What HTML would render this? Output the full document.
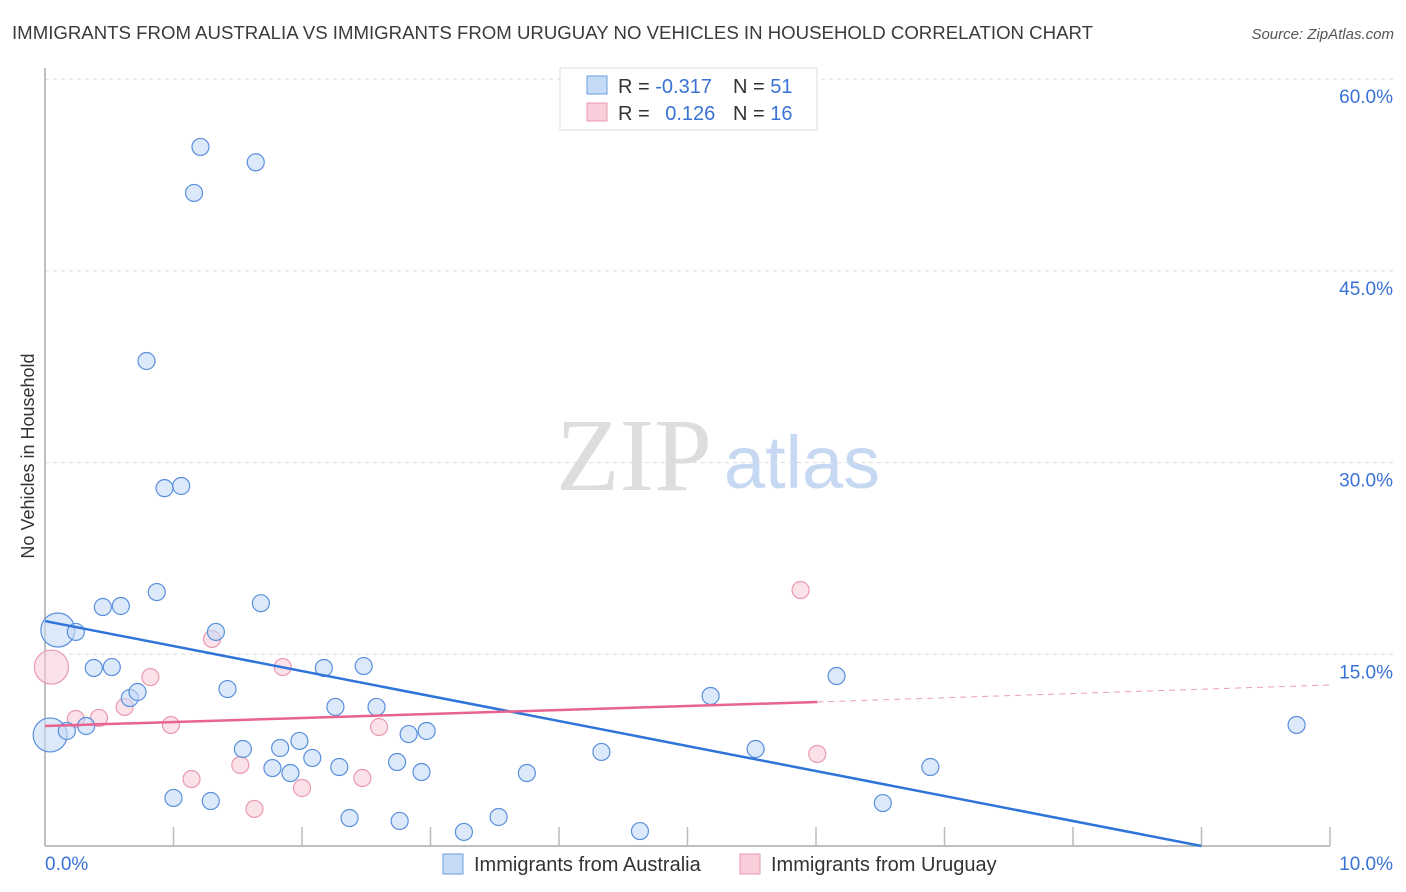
<!DOCTYPE html>
<html><head><meta charset="utf-8"><style>
body{margin:0;background:#fff;font-family:"Liberation Sans",sans-serif;}
svg{display:block}
</style></head><body>
<svg id="chart" width="1406" height="892">
<text x="12" y="39" font-size="18" fill="#3a3a3a" textLength="1081" lengthAdjust="spacingAndGlyphs">IMMIGRANTS FROM AUSTRALIA VS IMMIGRANTS FROM URUGUAY NO VEHICLES IN HOUSEHOLD CORRELATION CHART</text>
<text x="1394" y="39" font-size="15" fill="#555" font-style="italic" text-anchor="end">Source: ZipAtlas.com</text>
<text transform="translate(34,456) rotate(-90)" font-size="18" fill="#333" text-anchor="middle">No Vehicles in Household</text>
<g><text x="634" y="490" font-size="104" font-family="Liberation Serif,serif" fill="#ddd" text-anchor="middle">ZIP</text><text x="802" y="488" font-size="74" fill="#c7d9f2" text-anchor="middle">atlas</text></g>
<g id="grid"></g><g id="axes"></g><g id="marks"></g>
<g>
<rect x="560" y="68" width="257" height="62" fill="#fff" stroke="#ddd"/>
<rect x="587" y="76" width="20" height="18" fill="#c5daf6" stroke="#6a9ee0"/>
<rect x="587" y="103" width="20" height="18" fill="#f9cdd9" stroke="#ea9ab0"/>
<text x="618" y="93" font-size="20" fill="#333">R = <tspan fill="#3a72d6">-0.317</tspan></text>
<text x="733" y="93" font-size="20" fill="#333">N = <tspan fill="#3a72d6">51</tspan></text>
<text x="618" y="120" font-size="20" fill="#333">R = <tspan fill="#3a72d6" dx="10">0.126</tspan></text>
<text x="733" y="120" font-size="20" fill="#333">N = <tspan fill="#3a72d6">16</tspan></text>
</g>
<g>
<rect x="443" y="854" width="20" height="20" fill="#c5daf6" stroke="#6a9ee0"/>
<text x="474" y="871" font-size="20" fill="#333">Immigrants from Australia</text>
<rect x="740" y="854" width="20" height="20" fill="#f9cdd9" stroke="#ea9ab0"/>
<text x="771" y="871" font-size="20" fill="#333">Immigrants from Uruguay</text>
</g>
</svg>
<script>
const yTicks=[15,30,45,60];
const yTickLabels=["15.0%","30.0%","45.0%","60.0%"];
const xTickLabels=["0.0%","10.0%"];
const ausX=[0.04,0.10,0.17,0.24,0.32,0.38,0.45,0.52,0.59,0.66,0.72,0.79,0.87,0.93,1.00,1.06,1.16,1.21,1.29,1.33,1.42,1.54,1.64,1.68,1.77,1.83,1.91,1.98,2.08,2.17,2.26,2.29,2.37,2.48,2.58,2.74,2.76,2.83,2.93,2.97,3.26,3.53,3.75,4.33,4.63,5.18,5.53,6.16,6.52,6.89,9.74];
const ausY=[8.69,16.9,9.0,16.75,9.39,13.93,18.7,14.0,18.78,11.58,12.05,37.95,19.87,28.0,3.76,28.17,51.1,54.7,3.52,16.75,12.28,7.59,53.5,19.0,6.1,7.67,5.71,8.22,6.89,13.93,10.88,6.18,2.19,14.08,10.88,6.57,1.96,8.76,5.79,9.0,1.1,2.27,5.71,7.36,1.17,11.74,7.59,13.3,3.36,6.18,9.47];
const ausBig=[0,1];
const uruX=[0.05,0.24,0.42,0.62,0.82,0.98,1.14,1.30,1.52,1.63,1.85,2.00,2.47,2.60,5.88,6.01];
const uruY=[14.0,9.94,10.02,10.88,13.22,9.47,5.24,16.2,6.34,2.9,14.0,4.54,5.32,9.31,20.03,7.2];
const uruBig=[0];
const ausTrend=[[0,17.6],[9.0,0]];
const uruTrend=[[0,9.39],[6.01,11.27]];
const uruTrendDash=[[6.01,11.27],[10,12.6]];
const NS="http://www.w3.org/2000/svg";
const X0=45,X1=1330,Y0=846,YPER=12.78;
const sx=v=>X0+(X1-X0)*v/10, sy=v=>Y0-v*YPER;
function mk(tag,attrs,parent){const e=document.createElementNS(NS,tag);for(const k in attrs)e.setAttribute(k,attrs[k]);document.getElementById(parent).appendChild(e);return e;}
yTicks.forEach((t,i)=>{
 const g=mk('line',{x1:X0,x2:1395,y1:sy(t),y2:sy(t),stroke:'#ddd','stroke-dasharray':'4,4'},'grid');
 
 
 const l=mk('text',{x:1393,y:sy(t)+24,'font-size':19,fill:'#3a72d6','text-anchor':'end'},'axes');
 l.textContent=yTickLabels[i];
 
 
});
const ya=mk('line',{x1:X0,x2:X0,y1:68,y2:Y0,stroke:'#aaa','stroke-width':1.5},'axes');


const xa=mk('line',{x1:X0,x2:X1,y1:Y0,y2:Y0,stroke:'#aaa','stroke-width':1.5},'axes');


for(let i=1;i<=10;i++){const t=mk('line',{x1:sx(i),x2:sx(i),y1:Y0-19,y2:Y0,stroke:'#bbb','stroke-width':1.5},'axes');
 
 }
[[0,'start',45],[10,'end',1393]].forEach((d,i)=>{const l=mk('text',{x:d[2],y:870,'font-size':19,fill:'#3a72d6','text-anchor':d[1]},'axes');l.textContent=xTickLabels[i];
 
 });
function pts(xs,ys,big,fill,stroke,name){xs.forEach((x,i)=>{const c=mk('circle',{cx:sx(x),cy:sy(ys[i]),r:big.includes(i)?17:8.5,fill:fill,'fill-opacity':0.6,stroke:stroke,'stroke-width':1.2},'marks');
 
 });}
pts(uruX,uruY,uruBig,'#f9cdd9','#ea9ab0','point-uruguay');
pts(ausX,ausY,ausBig,'#c5daf6','#5a8fdc','point-australia');
function ln(p,color,dash,name){const l=mk('line',{x1:sx(p[0][0]),y1:sy(p[0][1]),x2:sx(p[1][0]),y2:sy(p[1][1]),stroke:color,'stroke-width':dash?1:2.5,'stroke-dasharray':dash?'6,5':'none'},'marks');
 
 }
ln(ausTrend,'#2f74d8',false,'trend-australia');
ln(uruTrend,'#e8638e',false,'trend-uruguay');
ln(uruTrendDash,'#e8a0b6',true,'trend-uruguay-extension');
</script>
</body></html>
